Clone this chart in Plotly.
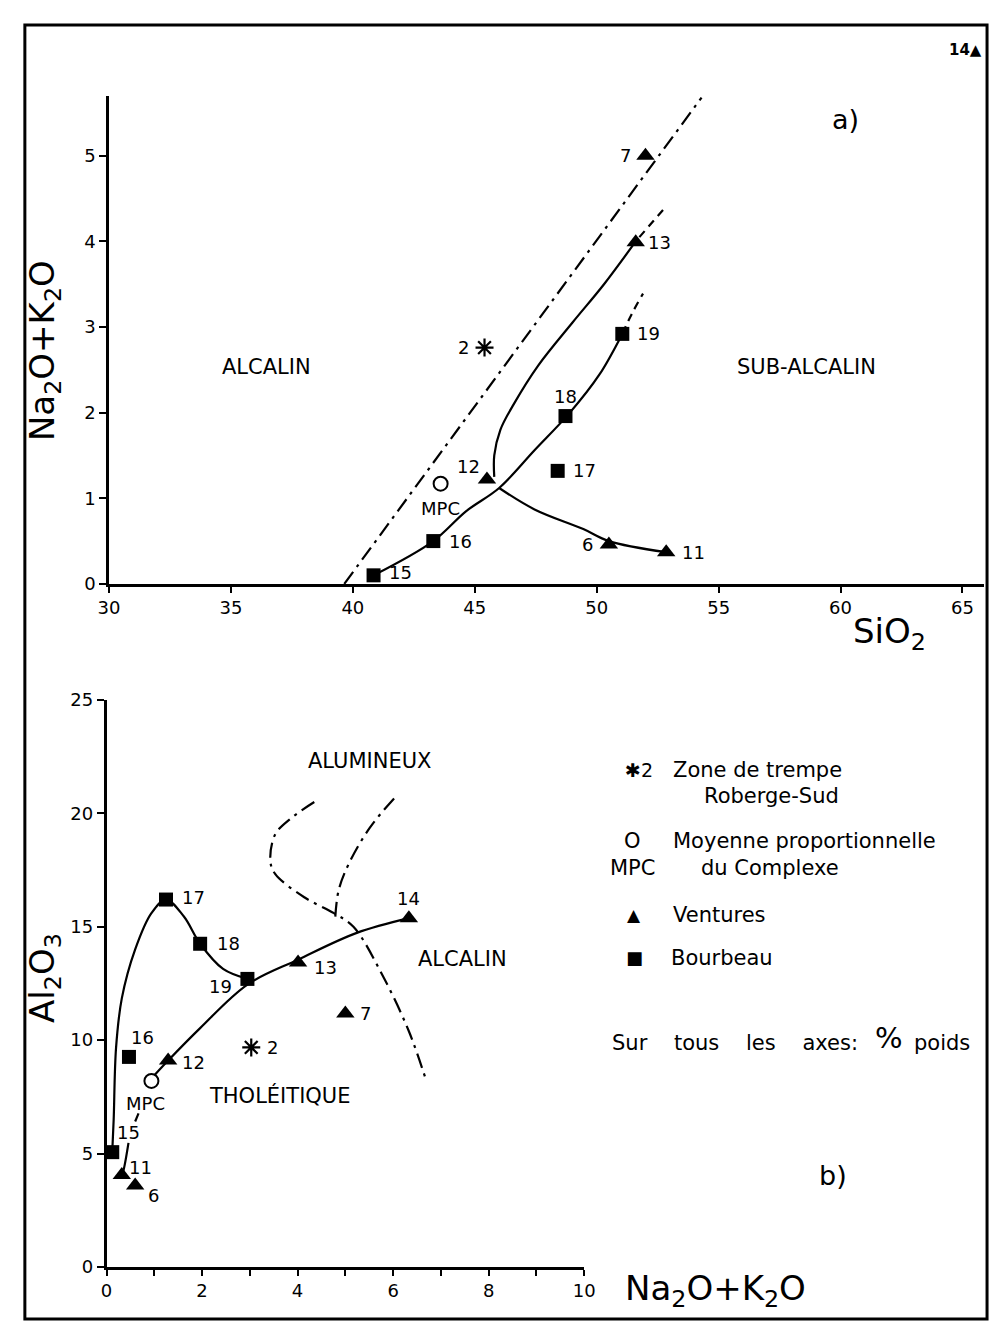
import plotly.graph_objects as go

# the page body keeps an 8px margin on every side, so the figure is
# 992x1323 and sits at (8, 8) in the 1008x1339 window
OFF = 8
W, H = 992, 1323

# ---------------- panel a : SiO2 vs Na2O+K2O ----------------
a_ven_id = ["7", "13", "12", "6", "11"]
a_ven_sio2 = [52.0, 51.6, 45.5, 50.5, 52.85]
a_ven_alk = [5.0, 3.99, 1.22, 0.46, 0.37]

a_bou_id = ["19", "18", "17", "16", "15"]
a_bou_sio2 = [51.05, 48.72, 48.4, 43.3, 40.85]
a_bou_alk = [2.92, 1.96, 1.32, 0.5, 0.1]

a_zone_sio2, a_zone_alk = [45.4], [2.76]
a_mpc_sio2, a_mpc_alk = [43.6], [1.17]

# alkaline / sub-alkaline boundary (dash-dot)
a_bound_sio2 = [39.65, 54.3]
a_bound_alk = [0.0, 5.68]
# Ventures trend (solid, two branches) + dashed extension
a_venlow_sio2 = [52.85, 50.5, 49.45, 47.45, 46.0]
a_venlow_alk = [0.37, 0.5, 0.64, 0.87, 1.12]
a_venup_sio2 = [45.8, 45.8, 46.05, 46.6, 47.6, 49.0, 50.3, 51.6]
a_venup_alk = [1.25, 1.5, 1.8, 2.1, 2.55, 3.05, 3.5, 4.0]
a_venext_sio2 = [51.75, 52.85]
a_venext_alk = [4.05, 4.41]
# Bourbeau trend (solid) + dashed extension
a_bouc_sio2 = [40.85, 43.3, 44.65, 46.0, 47.45, 48.9, 50.1, 51.05]
a_bouc_alk = [0.1, 0.5, 0.85, 1.12, 1.56, 2.0, 2.44, 2.92]
a_bouext_sio2 = [51.05, 51.45, 51.9]
a_bouext_alk = [2.92, 3.16, 3.39]

a_xticks = [30, 35, 40, 45, 50, 55, 60, 65]
a_yticks = [0, 1, 2, 3, 4, 5]

# ---------------- panel b : Na2O+K2O vs Al2O3 ----------------
b_ven_id = ["14", "13", "12", "7", "11", "6"]
b_ven_alk = [6.33, 4.01, 1.29, 5.0, 0.32, 0.6]
b_ven_al = [15.38, 13.42, 9.1, 11.18, 4.05, 3.59]

b_bou_id = ["17", "18", "19", "16", "15"]
b_bou_alk = [1.245, 1.96, 2.95, 0.47, 0.12]
b_bou_al = [16.2, 14.25, 12.7, 9.26, 5.06]

b_zone_alk, b_zone_al = [3.03], [9.68]
b_mpc_alk, b_mpc_al = [0.94], [8.2]

b_bouc_alk = [0.12, 0.15, 0.2, 0.32, 0.6, 0.94, 1.245, 1.62, 1.96, 2.44, 2.95]
b_bouc_al = [5.06, 6.5, 9.67, 11.84, 14.0, 15.6, 16.2, 15.45, 14.25, 13.14, 12.7]

b_venc_alk = [0.32, 0.36, 0.46, None, 0.6, 0.67, None,
              0.98, 1.29, 1.96, 2.95, 4.01, 5.24, 6.33]
b_venc_al = [4.05, 4.3, 5.47, None, 6.41, 6.77, None,
             8.4, 9.1, 10.53, 12.45, 13.55, 14.73, 15.38]

b_line1_alk = [4.35, 3.87, 3.53, 3.43, 3.53, 4.14, 4.76, 5.17, 5.78, 6.33, 6.68]
b_line1_al = [20.5, 19.8, 19.07, 17.9, 17.33, 16.3, 15.6, 15.0, 12.85, 10.39, 8.3]
b_line2_alk = [6.02, 5.51, 5.07, 4.86, 4.79]
b_line2_al = [20.66, 19.36, 17.77, 16.61, 15.45]

b_xticks = [0, 2, 4, 6, 8, 10]
b_yticks = [0, 5, 10, 15, 20, 25]

FONT = "DejaVu Sans, Liberation Sans, Arial, sans-serif"
BLACK = "black"
SP = "\u00a0\u00a0\u00a0 "


def px(x):
    return (x - OFF) / W


def py(y):
    return 1 - (y - OFF) / H


fig = go.Figure()

DASHDOT = "15px,6px,3px,6px"
DASH = "8px,6px"


def line(x, y, xa, ya, dash="solid", shape="spline"):
    fig.add_trace(go.Scatter(x=x, y=y, xaxis=xa, yaxis=ya, mode="lines",
                             line=dict(color=BLACK, width=2.2, dash=dash, shape=shape),
                             connectgaps=False, hoverinfo="skip", showlegend=False))


# panel a lines
line(a_bound_sio2, a_bound_alk, "x", "y", DASHDOT, "linear")
line(a_venlow_sio2, a_venlow_alk, "x", "y")
line(a_venup_sio2, a_venup_alk, "x", "y")
line(a_venext_sio2, a_venext_alk, "x", "y", DASH, "linear")
line(a_bouc_sio2, a_bouc_alk, "x", "y")
line(a_bouext_sio2, a_bouext_alk, "x", "y", DASH, "spline")

# panel b lines
line(b_bouc_alk, b_bouc_al, "x2", "y2")
line(b_venc_alk, b_venc_al, "x2", "y2")
line(b_line1_alk, b_line1_al, "x2", "y2", DASHDOT)
line(b_line2_alk, b_line2_al, "x2", "y2", DASHDOT)


def markers(x, y, xa, ya, symbol, size, filled=True, lw=0):
    fig.add_trace(go.Scatter(
        x=x, y=y, xaxis=xa, yaxis=ya, mode="markers", cliponaxis=False,
        marker=dict(symbol=symbol, size=size,
                    color=BLACK if filled else "white",
                    line=dict(color=BLACK, width=lw)),
        hoverinfo="skip", showlegend=False))


markers(a_ven_sio2, a_ven_alk, "x", "y", "triangle-up", 16)
markers(a_bou_sio2, a_bou_alk, "x", "y", "square", 14)
markers(a_zone_sio2, a_zone_alk, "x", "y", "asterisk-open", 15, lw=2.2)
markers(a_mpc_sio2, a_mpc_alk, "x", "y", "circle", 14, filled=False, lw=2)

markers(b_ven_alk, b_ven_al, "x2", "y2", "triangle-up", 16)
markers(b_bou_alk, b_bou_al, "x2", "y2", "square", 14)
markers(b_zone_alk, b_zone_al, "x2", "y2", "asterisk-open", 15, lw=2.2)
markers(b_mpc_alk, b_mpc_al, "x2", "y2", "circle", 14, filled=False, lw=2)

annotations = []


def lab(text, x, y, xref, yref, dx=0, dy=0, size=18, xanchor="center", **kw):
    annotations.append(dict(text=text, x=x, y=y, xref=xref, yref=yref,
                            xshift=dx, yshift=-dy, showarrow=False,
                            xanchor=xanchor, yanchor="middle",
                            font=dict(family=FONT, size=size, color=BLACK), **kw))


# point label offsets (pixels) -- style only
a_off = {"7": (-20, 0), "13": (24, 0), "12": (-18, -13), "6": (-21, 0), "11": (27, 0),
         "19": (26, 0), "18": (0, -20), "17": (27, 0), "16": (27, 0), "15": (27, -3)}
b_off = {"14": (0, -20), "13": (27, 5), "12": (25, 2), "7": (20, 0), "11": (19, -8),
         "6": (18, 10), "17": (28, -2), "18": (28, 0), "19": (-27, 8), "16": (14, -19),
         "15": (16, -20)}

for i, t in enumerate(a_ven_id):
    lab(t, a_ven_sio2[i], a_ven_alk[i], "x", "y", *a_off[t])
for i, t in enumerate(a_bou_id):
    lab(t, a_bou_sio2[i], a_bou_alk[i], "x", "y", *a_off[t])
lab("2", a_zone_sio2[0], a_zone_alk[0], "x", "y", -21, 0)
lab("MPC", a_mpc_sio2[0], a_mpc_alk[0], "x", "y", 0, 25)

for i, t in enumerate(b_ven_id):
    lab(t, b_ven_alk[i], b_ven_al[i], "x2", "y2", *b_off[t])
for i, t in enumerate(b_bou_id):
    lab(t, b_bou_alk[i], b_bou_al[i], "x2", "y2", *b_off[t])
lab("2", b_zone_alk[0], b_zone_al[0], "x2", "y2", 21, 0)
lab("MPC", b_mpc_alk[0], b_mpc_al[0], "x2", "y2", -6, 23)

# field names
lab("ALCALIN", 36.45, 2.53, "x", "y", size=21)
lab("SUB-ALCALIN", 58.6, 2.53, "x", "y", size=21)
lab("ALUMINEUX", 5.51, 22.3, "x2", "y2", size=21)
lab("ALCALIN", 7.46, 13.6, "x2", "y2", size=21)
lab("THOLÉITIQUE", 3.63, 7.57, "x2", "y2", size=21)

# paper-level texts
lab("<b>14▲</b>", px(976), py(40), "paper", "paper", size=15)
lab("a)", px(853), py(110), "paper", "paper", size=27)
lab("b)", px(840), py(1183), "paper", "paper", size=27)
lab("SiO<sub>2</sub>", px(898), py(632), "paper", "paper", size=34)
lab("Na<sub>2</sub>O+K<sub>2</sub>O", px(720), py(1300), "paper", "paper", size=34)
lab("Na<sub>2</sub>O+K<sub>2</sub>O", px(34), py(345), "paper", "paper", size=34, textangle=-90)
lab("Al<sub>2</sub>O<sub>3</sub>", px(34), py(982), "paper", "paper", size=34, textangle=-90)

# legend block
lab("✱2", px(642), py(771), "paper", "paper", size=19)
lab("Zone de trempe", px(675), py(771), "paper", "paper", size=21, xanchor="left")
lab("Roberge-Sud", px(707), py(798), "paper", "paper", size=21, xanchor="left")
lab("O", px(635), py(843), "paper", "paper", size=21)
lab("MPC", px(635), py(871), "paper", "paper", size=21)
lab("Moyenne proportionnelle", px(675), py(843), "paper", "paper", size=21, xanchor="left")
lab("du Complexe", px(703), py(871), "paper", "paper", size=21, xanchor="left")
lab("▲", px(637), py(918), "paper", "paper", size=17)
lab("Ventures", px(675), py(918), "paper", "paper", size=21, xanchor="left")
lab("■", px(637), py(962), "paper", "paper", size=18)
lab("Bourbeau", px(673), py(962), "paper", "paper", size=21, xanchor="left")
lab("Sur" + SP + "tous" + SP + "les" + SP + "axes:", px(612), py(1049), "paper", "paper",
    size=21, xanchor="left")
lab("%", px(898), py(1043), "paper", "paper", size=29)
lab("poids", px(921), py(1049), "paper", "paper", size=21, xanchor="left")

axis_common = dict(showline=True, linecolor=BLACK, linewidth=2.5, showgrid=False,
                   zeroline=False, ticks="outside", tickcolor=BLACK, tickwidth=1.8,
                   tickfont=dict(family=FONT, size=18, color=BLACK))

fig.update_layout(
    width=W, height=H, margin=dict(l=0, r=0, t=0, b=0),
    paper_bgcolor="white", plot_bgcolor="white",
    font=dict(family=FONT, color=BLACK),
    xaxis=dict(domain=[px(100), px(995)], range=[30, 30 + 895 / 24.94],
               tickvals=a_xticks, ticklen=6, anchor="y", **axis_common),
    yaxis=dict(domain=[py(582), py(86)], range=[0, 496 / 87.0],
               tickvals=a_yticks, ticklen=7, anchor="x", **axis_common),
    xaxis2=dict(domain=[px(97.5), px(586)], range=[0, 10], tickvals=b_xticks,
                ticklen=6, anchor="y2",
                minor=dict(dtick=1, ticks="outside", ticklen=6, tickwidth=1.8,
                           tickcolor=BLACK, showgrid=False),
                **axis_common),
    yaxis2=dict(domain=[py(1276), py(700)], range=[0, 25], tickvals=b_yticks,
                ticklen=7, anchor="x2", **axis_common),
    annotations=annotations,
    shapes=[dict(type="rect", xref="paper", yref="paper", x0=px(14), x1=px(998),
                 y0=py(1329), y1=py(14), line=dict(color=BLACK, width=3))],
)

fig.write_html("out.html", config={"displayModeBar": False})
